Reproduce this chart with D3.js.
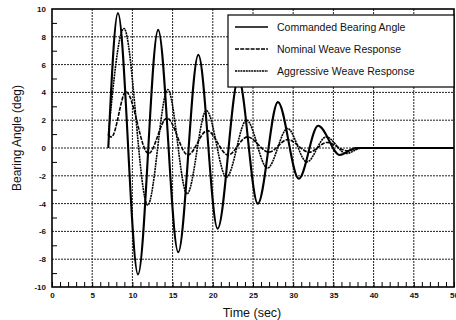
<!DOCTYPE html>
<html lang="en">
  <head>
    <meta charset="utf-8">
    <title>Bearing Angle</title>
    <script src="https://d3js.org/d3.v7.min.js"></script>
    <style>
      body { margin: 0; background: #fff; }
      svg { display: block; font-family: "Liberation Sans", Arial, sans-serif; }
    </style>
  </head>
  <body>
    <div id="myChart"></div>
    <script>
// values: [time (sec), angle (deg)]
var commanded = [[7,0],[8.2,9.7],[10.7,-9.1],[13.2,8.5],[15.7,-7.5],[18.2,6.7],[20.6,-5.8],[23.2,5.0],[25.6,-4.0],[28.1,3.3],[30.7,-2.2],[33.1,1.6],[35.8,-0.5],[37.8,0],[50,0]];
var nominal = [[7,0.9],[7.4,0.8],[9.2,4.05],[12.0,-0.4],[14.3,2.15],[16.9,-0.5],[19.3,1.25],[21.9,-0.5],[24.3,0.8],[27.0,-0.3],[29.3,0.6],[32.0,-0.3],[34.2,0.4],[36.7,-0.2],[38.5,0],[50,0]];
var aggressive = [[7,0.9],[8.95,8.6],[11.9,-4.1],[14.4,4.2],[16.8,-3.3],[19.2,2.7],[21.7,-2.1],[24.2,2.0],[26.8,-1.45],[29.3,1.4],[31.7,-1.0],[34.1,0.8],[36.6,-0.4],[38.5,0],[50,0]];

var seriesNames = ["Commanded Bearing Angle", "Nominal Weave Response", "Aggressive Weave Response"];
var xTicks = [0, 5, 10, 15, 20, 25, 30, 35, 40, 45, 50];
var yTicks = [-10, -8, -6, -4, -2, 0, 2, 4, 6, 8, 10];

var W = 456, H = 320;
var margin = {top: 9, right: 2, bottom: 33, left: 52};
var width = W - margin.left - margin.right,
    height = H - margin.top - margin.bottom;

var svg = d3.select("#myChart").append("svg")
    .attr("width", W)
    .attr("height", H);

var x = d3.scaleLinear().domain([0, 50]).range([0, width]),
    y = d3.scaleLinear().domain([-10, 10]).range([height, 0]);

var g = svg.append("g")
    .attr("transform", "translate(" + margin.left + "," + margin.top + ")");

// grid
g.append("g")
    .selectAll("line")
    .data(xTicks.slice(1, -1))
    .enter().append("line")
      .attr("x1", function(d) { return x(d); })
      .attr("x2", function(d) { return x(d); })
      .attr("y1", 0)
      .attr("y2", height)
      .attr("stroke", "#222")
      .attr("stroke-width", 1)
      .attr("stroke-dasharray", "2,1");

g.append("g")
    .selectAll("line")
    .data(yTicks.slice(1, -1))
    .enter().append("line")
      .attr("x1", 0)
      .attr("x2", width)
      .attr("y1", function(d) { return y(d); })
      .attr("y2", function(d) { return y(d); })
      .attr("stroke", "#222")
      .attr("stroke-width", 1)
      .attr("stroke-dasharray", "2,1");

// minor ticks, pointing inwards
g.append("g")
    .attr("transform", "translate(0," + height + ")")
    .call(d3.axisTop(x).tickValues(d3.range(0, 51)).tickSize(5).tickFormat("").tickSizeOuter(0))
    .call(function(a) { a.select(".domain").remove(); });

g.append("g")
    .call(d3.axisRight(y).tickValues(d3.range(-9, 10, 2)).tickSize(5).tickFormat("").tickSizeOuter(0))
    .call(function(a) { a.select(".domain").remove(); });

// tick labels
g.append("g")
    .attr("transform", "translate(0," + height + ")")
    .call(d3.axisBottom(x).tickValues(xTicks).tickSize(0).tickPadding(5))
    .call(function(a) {
      a.select(".domain").remove();
      a.selectAll("text").attr("font-size", 8).attr("font-weight", "bold").attr("fill", "#111")
        .attr("font-family", "Liberation Sans, Arial, sans-serif");
    });

g.append("g")
    .call(d3.axisLeft(y).tickValues(yTicks).tickSize(0).tickPadding(6).tickFormat(function(d) { return String(d); }))
    .call(function(a) {
      a.select(".domain").remove();
      a.selectAll("text").attr("font-size", 8).attr("font-weight", "bold").attr("fill", "#111")
        .attr("font-family", "Liberation Sans, Arial, sans-serif");
    });

// frame
g.append("rect")
    .attr("width", width)
    .attr("height", height)
    .attr("fill", "none")
    .attr("stroke", "#000")
    .attr("stroke-width", 1.6);

// curves
var line = d3.line()
    .x(function(d) { return x(d[0]); })
    .y(function(d) { return y(d[1]); })
    .curve(d3.curveMonotoneX);

var styles = [
  {data: commanded, dash: null, w: 2.1},
  {data: nominal, dash: "4,1.2", w: 1.6},
  {data: aggressive, dash: "2,0.7", w: 1.6}
];

styles.forEach(function(s) {
  g.append("path")
      .datum(s.data)
      .attr("d", line)
      .attr("fill", "none")
      .attr("stroke", "#000")
      .attr("stroke-width", s.w)
      .attr("stroke-dasharray", s.dash);
});

// legend
var lg = svg.append("g").attr("transform", "translate(228,15)");
lg.append("rect")
    .attr("width", 226)
    .attr("height", 72)
    .attr("fill", "#fff")
    .attr("stroke", "#000")
    .attr("stroke-width", 1.2);

seriesNames.forEach(function(name, i) {
  var yy = 12 + i * 22;
  lg.append("line")
      .attr("x1", 7).attr("x2", 40)
      .attr("y1", yy).attr("y2", yy)
      .attr("stroke", "#000")
      .attr("stroke-width", 1.3)
      .attr("stroke-dasharray", styles[i].dash);
  lg.append("text")
      .attr("x", 49)
      .attr("y", yy + 3.5)
      .attr("font-size", 10.5)
      .attr("fill", "#111")
      .text(name);
});

// axis titles
svg.append("text")
    .attr("transform", "translate(21,138) rotate(-90)")
    .attr("text-anchor", "middle")
    .attr("font-size", 12)
    .attr("fill", "#111")
    .text("Bearing Angle (deg)");

svg.append("text")
    .attr("x", 252)
    .attr("y", 317)
    .attr("text-anchor", "middle")
    .attr("font-size", 12.5)
    .attr("fill", "#111")
    .text("Time (sec)");
    </script>
  </body>
</html>
